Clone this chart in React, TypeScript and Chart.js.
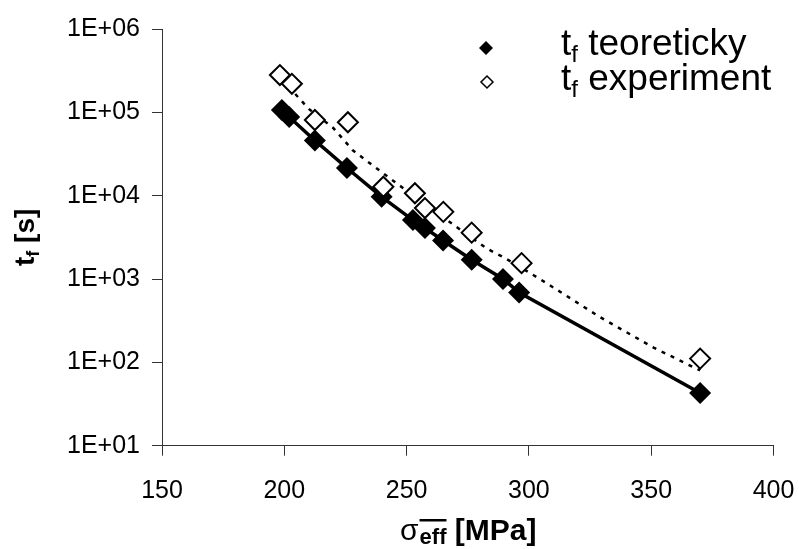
import React, { useEffect, useRef } from 'react';
import { Chart, registerables } from 'chart.js';

Chart.register(...registerables);

// ---- data ----
const theoryX = [199, 202, 212.5, 225.6, 239.8, 252.6, 257.5, 264.9, 276.6, 289.4, 296, 370];
const theoryY = [1.07e5, 8.8e4, 4.6e4, 2.15e4, 9.7e3, 5.1e3, 4.1e3, 2.9e3, 1.7e3, 1.0e3, 690, 43];
const expX = [198.2, 203.1, 212.5, 226, 240.5, 253.4, 257.5, 265, 276.6, 297, 370];
const expY = [2.8e5, 2.2e5, 8.1e4, 7.6e4, 1.28e4, 1.07e4, 7.1e3, 6.4e3, 3.6e3, 1.55e3, 111];
const trendX = [199, 210, 220, 228, 238, 246, 265, 272, 283, 290, 305, 329, 351, 370];
const trendY = [2.5e5, 1.1e5, 6.5e4, 3.5e4, 2.1e4, 1.4e4, 5.5e3, 3.9e3, 2.3e3, 1.8e3, 980, 350, 150, 80];
const xTicks = [150, 200, 250, 300, 350, 400];
const yTicks = [1e1, 1e2, 1e3, 1e4, 1e5, 1e6];
const legendLabels = ['teoreticky', 'experiment'];

const FONT = "'Liberation Sans', Arial, sans-serif";

function diamond(ctx: CanvasRenderingContext2D, x: number, y: number, r: number, filled: boolean) {
  ctx.beginPath();
  ctx.moveTo(x, y - r);
  ctx.lineTo(x + r, y);
  ctx.lineTo(x, y + r);
  ctx.lineTo(x - r, y);
  ctx.closePath();
  if (filled) {
    ctx.fillStyle = '#000';
    ctx.fill();
  } else {
    ctx.fillStyle = '#fff';
    ctx.fill();
    ctx.lineWidth = 1.5;
    ctx.strokeStyle = '#000';
    ctx.stroke();
  }
}

function subText(
  ctx: CanvasRenderingContext2D,
  x: number,
  y: number,
  main: string,
  sub: string,
  rest: string,
  size: number,
  bold: boolean,
  draw = true
) {
  const w = bold ? 'bold ' : '';
  const subSize = Math.round(size * 0.66);
  ctx.font = `${w}${size}px ${FONT}`;
  const w1 = ctx.measureText(main).width;
  if (draw) ctx.fillText(main, x, y);
  ctx.font = `${w}${subSize}px ${FONT}`;
  const w2 = ctx.measureText(sub).width;
  if (draw) ctx.fillText(sub, x + w1, y + size * 0.18);
  ctx.font = `${w}${size}px ${FONT}`;
  const w3 = ctx.measureText(rest).width;
  if (draw) ctx.fillText(rest, x + w1 + w2, y);
  return w1 + w2 + w3;
}

const textPlugin = {
  id: 'customText',
  afterDraw(chart: any) {
    const ctx: CanvasRenderingContext2D = chart.ctx;
    const area = chart.chartArea;
    ctx.save();
    ctx.fillStyle = '#000';
    ctx.textAlign = 'left';
    ctx.textBaseline = 'alphabetic';

    // legend
    diamond(ctx, 486, 48, 7, true);
    diamond(ctx, 487, 82, 6, false);
    ctx.fillStyle = '#000';
    subText(ctx, 561, 55, 't', 'f', ' ' + legendLabels[0], 37, false);
    subText(ctx, 561, 90, 't', 'f', ' ' + legendLabels[1], 37, false);

    // x axis title: sigma_eff (overlined) [MPa]
    const cx = (area.left + area.right) / 2;
    const base = 540;
    ctx.font = `30px ${FONT}`;
    const wS = ctx.measureText('σ').width;
    ctx.font = `bold 22px ${FONT}`;
    const wE = ctx.measureText('eff').width;
    ctx.font = `bold 30px ${FONT}`;
    const wM = ctx.measureText(' [MPa]').width;
    const total = wS + wE + wM;
    const x0 = cx - total / 2;
    ctx.font = `30px ${FONT}`;
    ctx.fillText('σ', x0, base);
    ctx.font = `bold 22px ${FONT}`;
    ctx.fillText('eff', x0 + wS + 1, base + 4);
    ctx.fillRect(x0 + wS + 1, base - 21, wE, 2.5);
    ctx.font = `bold 30px ${FONT}`;
    ctx.fillText(' [MPa]', x0 + wS + wE + 1, base);

    // y axis title: t_f [s]
    ctx.save();
    ctx.translate(34, (area.top + area.bottom) / 2);
    ctx.rotate(-Math.PI / 2);
    const wt = subText(ctx, 0, 0, 't', 'f', ' [s]', 28, true, false);
    subText(ctx, -wt / 2, 0, 't', 'f', ' [s]', 28, true, true);
    ctx.restore();

    ctx.restore();
  },
};

export default function App() {
  const ref = useRef<HTMLCanvasElement | null>(null);

  useEffect(() => {
    document.body.style.margin = '0';
    const canvas = ref.current;
    if (!canvas) return;
    const chart = new Chart(canvas, {
      type: 'scatter',
      data: {
        datasets: [
          {
            label: 't_f experiment',
            data: expX.map((x, i) => ({ x, y: expY[i] })),
            showLine: false,
            pointStyle: 'rectRot',
            pointRadius: 10,
            pointBorderWidth: 2,
            pointBackgroundColor: '#fff',
            pointBorderColor: '#000',
            order: 0,
          },
          {
            label: 't_f teoreticky',
            data: theoryX.map((x, i) => ({ x, y: theoryY[i] })),
            showLine: true,
            borderColor: '#000',
            borderWidth: 3.5,
            pointStyle: 'rectRot',
            pointRadius: 11,
            pointBorderWidth: 0,
            pointBackgroundColor: '#000',
            order: 1,
          },
          {
            label: 'trend experiment',
            data: trendX.map((x, i) => ({ x, y: trendY[i] })),
            showLine: true,
            borderColor: '#000',
            borderWidth: 2.5,
            borderDash: [4, 6],
            pointRadius: 0,
            order: 2,
          },
        ],
      },
      options: {
        responsive: false,
        animation: false,
        layout: { padding: { top: 29, right: 25.5, left: 0, bottom: 0 } },
        plugins: {
          legend: { display: false },
          tooltip: { enabled: false },
        },
        scales: {
          x: {
            type: 'linear',
            min: 150,
            max: 400,
            afterBuildTicks: (s: any) => {
              s.ticks = xTicks.map((v) => ({ value: v }));
            },
            afterFit: (s: any) => {
              s.height = 103.3;
              s.paddingLeft = 0;
              s.paddingRight = 0;
              s.paddingTop = 0;
              s.paddingBottom = 0;
            },
            grid: { drawOnChartArea: false, drawTicks: true, tickLength: 10, color: '#333', lineWidth: 1 },
            border: { display: true, color: '#333', width: 1 },
            ticks: {
              font: { family: FONT, size: 25 },
              color: '#000',
              padding: 20,
              maxRotation: 0,
              callback: (v: any) => String(v),
            },
          },
          y: {
            type: 'logarithmic',
            min: 10,
            max: 1e6,
            afterBuildTicks: (s: any) => {
              s.ticks = yTicks.map((v) => ({ value: v }));
            },
            afterFit: (s: any) => {
              s.width = 162;
              s.paddingLeft = 0;
              s.paddingRight = 0;
              s.paddingTop = 0;
              s.paddingBottom = 0;
            },
            grid: { drawOnChartArea: false, drawTicks: true, tickLength: 10, color: '#333', lineWidth: 1 },
            border: { display: true, color: '#333', width: 1 },
            ticks: {
              font: { family: FONT, size: 25 },
              color: '#000',
              padding: 12,
              callback: (v: any) => '1E+' + String(Math.round(Math.log10(Number(v)))).padStart(2, '0'),
            },
          },
        },
      },
      plugins: [textPlugin],
    });
    return () => chart.destroy();
  }, []);

  return (
    <div style={{ width: 799, height: 549 }}>
      <canvas ref={ref} width={799} height={549} style={{ display: 'block' }} />
    </div>
  );
}
